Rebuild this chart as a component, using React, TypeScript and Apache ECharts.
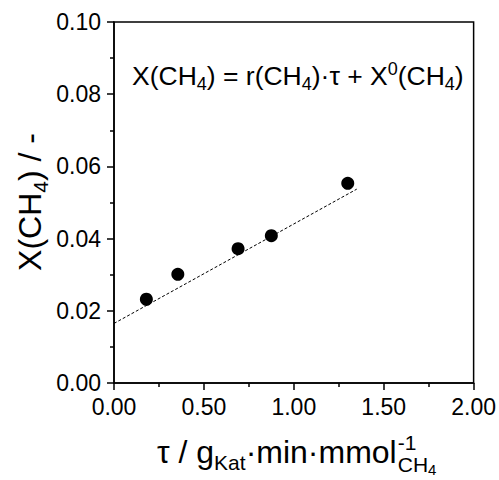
import React, { useEffect, useRef } from "react";
import * as echarts from "echarts";

const tauValues = [0.18, 0.355, 0.69, 0.875, 1.3];
const conversionValues = [0.0232, 0.0301, 0.0372, 0.0408, 0.0553];
const fitX = [0, 1.35];
const fitY = [0.0165, 0.0537];
const xTicks = [0, 0.5, 1.0, 1.5, 2.0];
const yTicks = [0, 0.02, 0.04, 0.06, 0.08, 0.1];

const FONT = "'Liberation Sans', Arial, Helvetica, sans-serif";

function measure(text: string, size: number): number {
  const c = document.createElement("canvas").getContext("2d");
  if (!c) return text.length * size * 0.5;
  c.font = `${size}px 'Liberation Sans', Arial, sans-serif`;
  return c.measureText(text).width;
}

export default function App() {
  const ref = useRef<HTMLDivElement>(null);
  useEffect(() => {
    if (!ref.current) return;
    const chart = echarts.init(ref.current, undefined, { renderer: "svg" });

    const titleFs = 32;
    const subFs = 21;
    const xTitleLeft = 157;
    const xTitleY = 452;
    const part1 = "τ / g";
    const part2 = "Kat";
    const part3 = "·min·mmol";
    const w1 = measure(part1, titleFs);
    const w2 = measure(part2, subFs);
    const w3 = measure(part3, titleFs);
    const stackX = xTitleLeft + w1 + w2 + w3 + 1;

    const black = "#000";
    const eqFs = 26.5;

    chart.setOption({
      animation: false,
      backgroundColor: "#fff",
      grid: { left: 114, right: 23, top: 22, bottom: 97, show: true, borderColor: black, borderWidth: 1.5 },
      xAxis: {
        type: "value",
        min: xTicks[0],
        max: xTicks[xTicks.length - 1],
        interval: 0.5,
        axisLine: { show: true, lineStyle: { color: black, width: 1.5 } },
        axisTick: { show: true, inside: false, length: 7, lineStyle: { color: black, width: 1.5 } },
        minorTick: { show: true, splitNumber: 2, length: 4, lineStyle: { color: black, width: 1.5 } },
        splitLine: { show: false },
        axisLabel: {
          color: black,
          fontSize: 23,
          fontFamily: FONT,
          margin: 12,
          formatter: (v: number) => v.toFixed(2),
        },
      },
      yAxis: {
        type: "value",
        min: yTicks[0],
        max: yTicks[yTicks.length - 1],
        interval: 0.02,
        axisLine: { show: true, lineStyle: { color: black, width: 1.5 } },
        axisTick: { show: true, inside: false, length: 7, lineStyle: { color: black, width: 1.5 } },
        minorTick: { show: true, splitNumber: 2, length: 4, lineStyle: { color: black, width: 1.5 } },
        splitLine: { show: false },
        axisLabel: {
          color: black,
          fontSize: 23,
          fontFamily: FONT,
          margin: 13,
          formatter: (v: number) => v.toFixed(2),
        },
      },
      series: [
        {
          type: "line",
          data: fitX.map((x, i) => [x, fitY[i]]),
          showSymbol: false,
          symbol: "none",
          lineStyle: { color: black, width: 1, type: [3, 2] },
          z: 2,
        },
        {
          type: "scatter",
          data: tauValues.map((x, i) => [x, conversionValues[i]]),
          symbol: "circle",
          symbolSize: 13,
          itemStyle: { color: black, opacity: 1 },
          z: 3,
        },
      ],
      graphic: [
        {
          type: "text",
          x: 132,
          y: 76,
          style: {
            text: "{m|X(CH}{s|4}{m|) = r(CH}{s|4}{m|)·τ + X}{p|0}{m|(CH}{s|4}{m|)}",
            fontSize: eqFs,
            fontFamily: FONT,
            fill: black,
            align: "left",
            verticalAlign: "middle",
            rich: {
              m: { fontSize: eqFs, fontFamily: FONT, fill: black, lineHeight: 40, verticalAlign: "middle" },
              s: { fontSize: 18, fontFamily: FONT, fill: black, lineHeight: 18, verticalAlign: "bottom", padding: [0, 0, 3, 0] },
              p: { fontSize: 18, fontFamily: FONT, fill: black, lineHeight: 18, verticalAlign: "top", padding: [4, 0, 0, 0] },
            },
          },
        },
        {
          type: "text",
          x: 30,
          y: 202,
          rotation: Math.PI / 2,
          style: {
            text: "{m|X(CH}{s|4}{m|) / -}",
            fontSize: titleFs,
            fontFamily: FONT,
            fill: black,
            align: "center",
            verticalAlign: "middle",
            rich: {
              m: { fontSize: titleFs, fontFamily: FONT, fill: black, lineHeight: 48, verticalAlign: "middle" },
              s: { fontSize: subFs, fontFamily: FONT, fill: black, lineHeight: 21, verticalAlign: "bottom", padding: [0, 0, 3, 0] },
            },
          },
        },
        {
          type: "text",
          x: xTitleLeft,
          y: xTitleY,
          style: {
            text: "{m|τ / g}{s|Kat}{m|·min·mmol}",
            fontSize: titleFs,
            fontFamily: FONT,
            fill: black,
            align: "left",
            verticalAlign: "middle",
            rich: {
              m: { fontSize: titleFs, fontFamily: FONT, fill: black, lineHeight: 48, verticalAlign: "middle" },
              s: { fontSize: subFs, fontFamily: FONT, fill: black, lineHeight: 21, verticalAlign: "bottom", padding: [0, 0, 3, 0] },
            },
          },
        },
        {
          type: "text",
          x: stackX,
          y: xTitleY - 10,
          style: {
            text: "-1",
            fontSize: subFs,
            fontFamily: FONT,
            fill: black,
            align: "left",
            verticalAlign: "middle",
          },
        },
        {
          type: "text",
          x: stackX,
          y: xTitleY + 12,
          style: {
            text: "{m|CH}{s|4}",
            fontSize: subFs,
            fontFamily: FONT,
            fill: black,
            align: "left",
            verticalAlign: "middle",
            rich: {
              m: { fontSize: subFs, fontFamily: FONT, fill: black, lineHeight: 26, verticalAlign: "middle" },
              s: { fontSize: 15, fontFamily: FONT, fill: black, lineHeight: 15, verticalAlign: "bottom", padding: [0, 0, 0, 0] },
            },
          },
        },
      ],
    });
    return () => chart.dispose();
  }, []);
  return (
    <div
      ref={ref}
      style={{ position: "fixed", left: 0, top: 0, width: 499, height: 480 }}
    />
  );
}
